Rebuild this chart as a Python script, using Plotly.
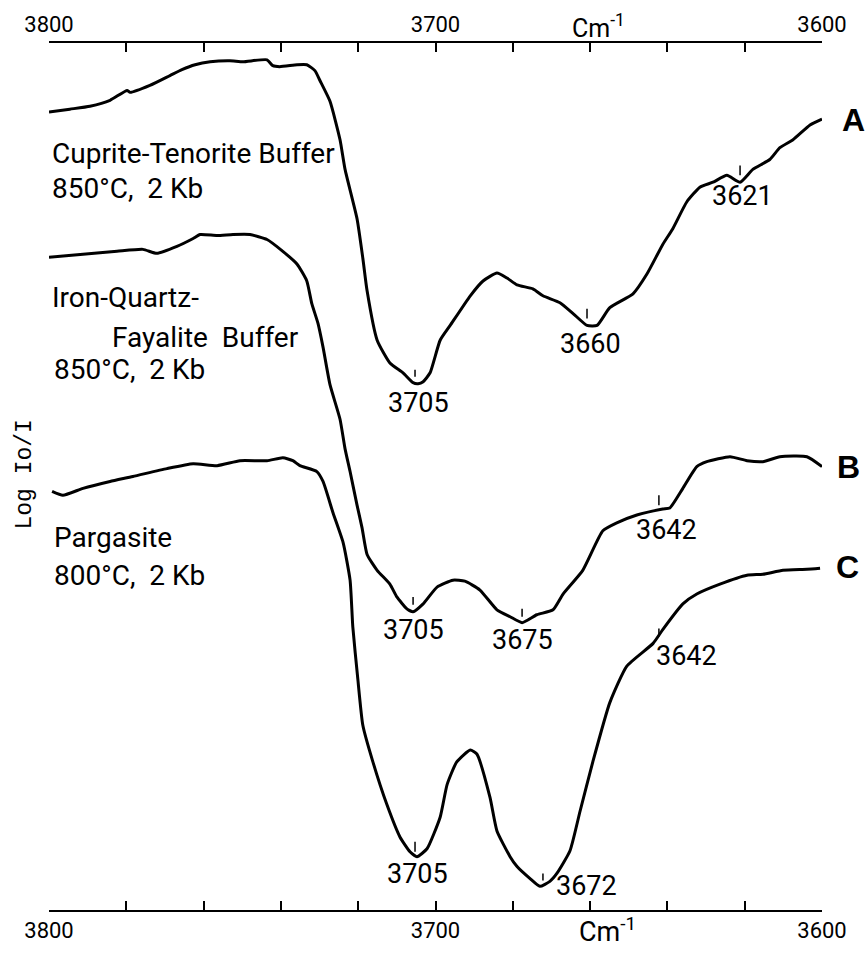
import plotly.graph_objects as go

# ---------------- data (wavenumber cm^-1, Log Io/I in arbitrary offset units) ----------------
a_nu = [3800, 3794.6, 3789.4, 3784.2, 3779.8, 3779.0, 3773.9, 3768.7, 3765.6, 3762.2, 3758.3,
        3753.2, 3749.8, 3743.6, 3742.1, 3740.3, 3735.8, 3733.3, 3731.2, 3729.9, 3727.3, 3724.7,
        3723.4, 3720.3, 3718.8, 3717.7, 3715.1, 3711.8, 3708.4, 3705.8, 3704.5, 3703.2, 3701.4,
        3698.8, 3696.2, 3691.0, 3687.7, 3684.1, 3681.5, 3678.9, 3674.8, 3672.2, 3667.8, 3664.4,
        3660.8, 3658.2, 3654.9, 3648.9, 3645.3, 3641.2, 3638.6, 3635.0, 3631.6, 3628.2, 3624.6,
        3621.2, 3617.9, 3613.5, 3610.9, 3607.5, 3603.1, 3600]
a_val = [808, 811, 814, 820, 830, 828, 835, 845, 851, 856, 859,
         860, 859, 861, 855, 854, 856, 856, 850, 840, 819, 780,
         750, 700, 660, 627, 577, 554, 544, 534, 533, 535, 544,
         577, 592, 622, 637, 645, 640, 633, 629, 622, 615, 604,
         592, 592, 610, 624, 644, 674, 690, 717, 732, 737, 744,
         737, 750, 760, 772, 780, 795, 801]

b_nu = [3800, 3791.2, 3782.4, 3775.7, 3772.1, 3766.9, 3762.7, 3760.9, 3756.5, 3752.4, 3748.0,
        3743.6, 3739.5, 3735.8, 3733.3, 3732.0, 3730.4, 3729.1, 3727.3, 3724.7, 3723.4, 3722.1,
        3720.3, 3719.0, 3717.7, 3715.1, 3711.8, 3710.0, 3707.4, 3705.8, 3703.2, 3699.6, 3695.5,
        3692.4, 3688.5, 3684.1, 3680.7, 3677.6, 3673.8, 3669.6, 3667.0, 3661.9, 3656.7, 3653.1,
        3647.9, 3641.2, 3639.4, 3636.0, 3632.4, 3629.8, 3623.8, 3619.4, 3615.3, 3610.9, 3603.9,
        3600.0]
b_val = [661, 664, 667, 669, 665, 672, 680, 684, 683, 684, 684,
         679, 667, 654, 637, 614, 594, 570, 532, 497, 467, 444,
         410, 387, 360, 344, 330, 317, 305, 302, 310, 327, 334,
         333, 324, 304, 297, 291, 299, 304, 320, 344, 384, 392,
         400, 406, 407, 427, 449, 454, 459, 455, 454, 459, 459,
         449]

c_nu = [3799.2, 3796.4, 3791.2, 3784.2, 3778.3, 3769.5, 3762.7, 3756.5, 3750.6, 3743.6, 3739.5,
        3736.9, 3735.1, 3730.7, 3729.1, 3726.5, 3723.9, 3722.1, 3721.4, 3720.1, 3718.8, 3716.2,
        3712.6, 3709.2, 3706.6, 3704.8, 3702.2, 3698.8, 3697.0, 3694.5, 3691.0, 3689.3, 3685.9,
        3684.1, 3680.7, 3678.9, 3675.6, 3673.0, 3670.4, 3668.6, 3665.2, 3662.6, 3659.3, 3654.9,
        3650.5, 3643.7, 3641.2, 3636.0, 3632.4, 3626.4, 3619.4, 3615.3, 3610.1, 3603.9, 3600.5]
c_val = [424, 420, 427, 434, 439, 447, 452, 450, 455, 455, 458,
         455, 450, 444, 434, 402, 372, 334, 287, 234, 187, 150,
         107, 74, 59, 54, 62, 94, 127, 150, 162, 158, 114,
         80, 54, 44, 32, 24, 29, 37, 60, 100, 150, 210,
         247, 270, 284, 310, 320, 330, 339, 340, 344, 345, 346]

# peak markers: label text, marker position (cm^-1), marker bottom/top value
peak_text = ["3705", "3660", "3621", "3705", "3675", "3642", "3705", "3672", "3642"]
peak_nu = [3705.3, 3660.8, 3621.2, 3705.8, 3677.6, 3642.2, 3705.3, 3672.2, 3642.2]
peak_lo = [540, 599, 744, 309, 297, 410, 59, 30, 277]
peak_hi = [547, 609, 754, 317, 305, 420, 69, 37, 285]

x_major = [3800, 3700, 3600]
x_major_text = ["3800", "3700", "3600"]
x_minor_step = 20

# ---------------- layout geometry (pixels) ----------------
W, H = 867, 955
L, R, T, B = 49, 822, 39, 917


def px(x):
    return (x - L) / (R - L)


def py(y):
    return (B - y) / (B - T)


# label offsets (pixels) from marker bottom to label centre
peak_dx = [3, 3, 2, 0, 0, 8, 2, 44, 28]
peak_dy = [26, 25, 21, 25, 23, 25, 22, 6, 20]

LINE = dict(color="black", width=3, shape="spline", smoothing=0.5)
FONT = "Roboto, 'DejaVu Sans', sans-serif"

fig = go.Figure()
for nu, val in [(a_nu, a_val), (b_nu, b_val), (c_nu, c_val)]:
    fig.add_trace(go.Scatter(x=nu, y=val, mode="lines", line=LINE,
                             hoverinfo="skip", showlegend=False))

for nu, lo, hi in zip(peak_nu, peak_lo, peak_hi):
    fig.add_trace(go.Scatter(x=[nu, nu], y=[lo, hi], mode="lines",
                             line=dict(color="black", width=1.5),
                             hoverinfo="skip", showlegend=False))

# invisible trace to carry the top axis
fig.add_trace(go.Scatter(x=[x_major[0], x_major[-1]], y=[0, 0], xaxis="x2",
                         mode="markers", marker=dict(opacity=0),
                         hoverinfo="skip", showlegend=False))

annotations = []
for txt, nu, lo, dx, dy in zip(peak_text, peak_nu, peak_lo, peak_dx, peak_dy):
    annotations.append(dict(x=nu, y=lo, xref="x", yref="y", text=txt, showarrow=False,
                            xshift=dx, yshift=-dy, xanchor="center", yanchor="middle",
                            font=dict(family=FONT, size=27, color="black")))

desc = [
    ("Cuprite-Tenorite Buffer", 50, 151),
    ("850°C,  2 Kb", 50, 186),
    ("Iron-Quartz-", 50, 297),
    ("Fayalite  Buffer", 110, 337),
    ("850°C,  2 Kb", 52, 370),
    ("Pargasite", 52, 540),
    ("800°C,  2 Kb", 52, 578),
]
for txt, x, y in desc:
    annotations.append(dict(x=px(x), y=py(y), xref="paper", yref="paper", text=txt,
                            showarrow=False, xanchor="left", yanchor="middle",
                            font=dict(family=FONT, size=28, color="black")))

for txt, x, y in [("A", 853, 117), ("B", 848, 468), ("C", 847, 570)]:
    annotations.append(dict(x=px(x), y=py(y), xref="paper", yref="paper", text=f"<b>{txt}</b>",
                            showarrow=False, xanchor="center", yanchor="middle",
                            font=dict(family="Liberation Sans, Arial, sans-serif", size=32,
                                      color="black")))

annotations.append(dict(x=px(598), y=py(22), xref="paper", yref="paper",
                        text="Cm<sup>-1</sup>", showarrow=False, xanchor="center",
                        yanchor="middle", font=dict(family=FONT, size=25, color="black")))
annotations.append(dict(x=px(607), y=py(937), xref="paper", yref="paper",
                        text="Cm<sup>-1</sup>", showarrow=False, xanchor="center",
                        yanchor="middle", font=dict(family=FONT, size=27, color="black")))
annotations.append(dict(x=px(25), y=py(476), xref="paper", yref="paper",
                        text="Log Io/I", showarrow=False, textangle=-90,
                        xanchor="center", yanchor="middle",
                        font=dict(family="Liberation Mono, 'DejaVu Sans Mono', monospace",
                                  size=23, color="black")))

axis_common = dict(range=[3800, 3600], tickmode="array", tickvals=x_major,
                   ticktext=x_major_text, ticks="inside", ticklen=9, tickwidth=2,
                   tickcolor="black", showline=True, linewidth=2, linecolor="black",
                   showgrid=False, zeroline=False,
                   minor=dict(ticks="inside", ticklen=9, tickwidth=2, tickcolor="black",
                              tickmode="linear", tick0=3600, dtick=x_minor_step,
                              showgrid=False),
                   tickfont=dict(family=FONT, size=22, color="black"))

fig.update_layout(
    width=W, height=H, autosize=False,
    margin=dict(l=L, r=W - R, t=T, b=H - B, pad=0),
    paper_bgcolor="white", plot_bgcolor="white",
    xaxis=dict(**axis_common, side="bottom"),
    xaxis2=dict(**axis_common, side="top", overlaying="x"),
    yaxis=dict(range=[0, B - T], visible=False),
    annotations=annotations,
    showlegend=False,
)

fig.write_html("out.html")
